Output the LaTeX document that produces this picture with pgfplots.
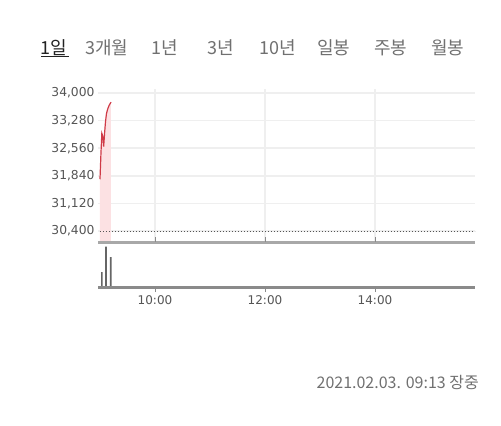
\documentclass[border=0pt]{standalone}
\usepackage{fontspec}
\setmainfont{DejaVu Sans}
\newfontfamily\kr{Noto Sans CJK KR}
\usepackage{pgfplots}
\pgfplotsset{compat=1.18}
\definecolor{tabdark}{HTML}{222222}
\definecolor{tabgray}{HTML}{707070}
\definecolor{ticktxt}{HTML}{555555}
\definecolor{gridc}{HTML}{EFEFEF}
\definecolor{redline}{HTML}{CF3A47}
\definecolor{pinkfill}{HTML}{FCE1E3}
\definecolor{sepc}{HTML}{A8A8A8}
\definecolor{basec}{HTML}{8A8A8A}
\definecolor{barc}{HTML}{666666}
\begin{document}
\begin{tikzpicture}
\path[use as bounding box] (0,0) rectangle (501bp,-426bp);
% tabs
\begin{scope}[every node/.style={anchor=base west, inner sep=0pt, font=\kr\fontsize{18bp}{20bp}\selectfont}]
\node[text=tabdark] at (40bp,-54bp) {1일};
\node[text=tabgray] at (85bp,-54bp) {3개월};
\node[text=tabgray] at (151bp,-54bp) {1년};
\node[text=tabgray] at (207bp,-54bp) {3년};
\node[text=tabgray] at (259bp,-54bp) {10년};
\node[text=tabgray] at (317bp,-54bp) {일봉};
\node[text=tabgray] at (374bp,-54bp) {주봉};
\node[text=tabgray] at (431bp,-54bp) {월봉};
\end{scope}
\draw[tabdark, line width=1bp] (41bp,-56.5bp) -- (69bp,-56.5bp);
% price panel
\begin{axis}[
  at={(98bp,-89bp)}, anchor=north west,
  scale only axis, width=377bp, height=153bp,
  xmin=-2.18, xmax=409.1, ymin=30113, ymax=34104,
  axis line style={draw=none},
  scaled y ticks=false,
  xtick={60,180,300}, xticklabels={},
  ytick={30400,31120,31840,32560,33280,34000},
  yticklabels={30{,}400,31{,}120,31{,}840,32{,}560,33{,}280,34{,}000},
  major tick length=0pt,
  xmajorgrids, ymajorgrids,
  grid style={gridc, line width=1.5bp},
  yticklabel style={font=\fontsize{12.3bp}{14bp}\selectfont, text=ticktxt},
  clip=false,
]
\addplot[fill=pinkfill, draw=none] coordinates {
(0,30400) (0,31750) (1,32400) (2,32950) (3,32880) (4,32600) (5,32950) (6,33250) (7,33450) (8,33550) (9,33620) (10,33680) (11,33720) (12,33760) (12,30400)} \closedcycle;
\addplot[redline, line width=1.2bp] coordinates {
(0,31750) (1,32400) (2,32950) (3,32880) (4,32600) (5,32950) (6,33250) (7,33450) (8,33550) (9,33620) (10,33680) (11,33720) (12,33760)};
\draw[ticktxt, line width=1bp, dash pattern=on 1.5bp off 1.5bp] (axis cs:0,30400) -- (axis cs:409.1,30400);
\draw[sepc, line width=3bp] (rel axis cs:0,0) -- (rel axis cs:1,0);
\end{axis}
% volume panel
\begin{axis}[
  at={(98bp,-242bp)}, anchor=north west,
  scale only axis, width=377bp, height=45bp,
  xmin=-2.18, xmax=409.1, ymin=0, ymax=45,
  axis line style={draw=none},
  xtick={60,180,300}, xticklabels={10:00,12:00,14:00},
  ytick=\empty,
  tick align=outside, major tick length=5bp,
  xtick style={basec, line width=0.8bp},
  xticklabel style={font=\fontsize{12bp}{14bp}\selectfont, text=ticktxt},
  clip=false,
]
\addplot[ybar, bar width=1.6bp, fill=barc, draw=none] coordinates {(2,15) (6.5,40.3) (11.7,30)};
\draw[basec, line width=3bp] (rel axis cs:0,0) -- (rel axis cs:1,0);
\end{axis}
\node[anchor=base east, inner sep=0pt, text=tabgray, font=\kr\fontsize{16bp}{18bp}\selectfont] at (479bp,-388bp) {2021.02.03. 09:13 장중};
\end{tikzpicture}
\end{document}
